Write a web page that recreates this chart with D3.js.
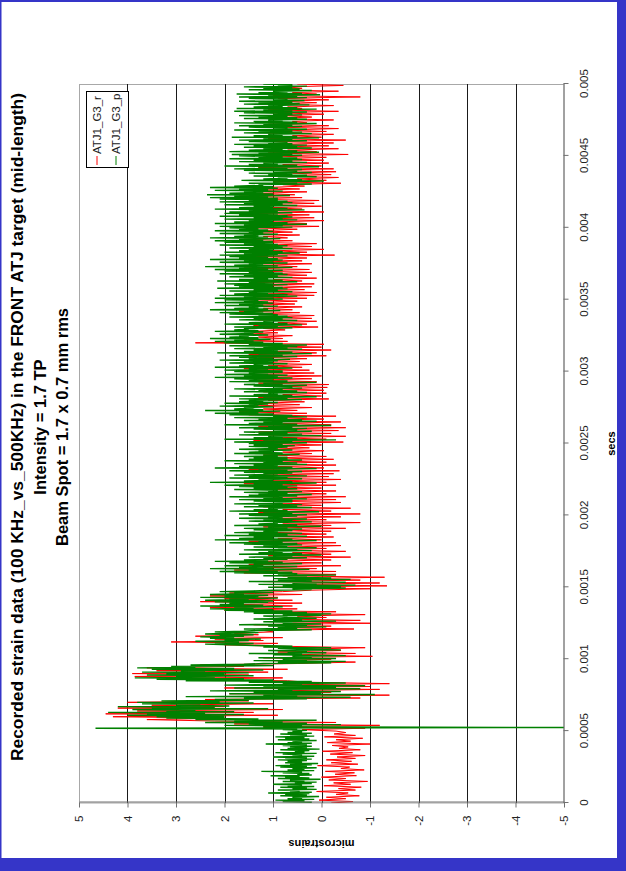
<!DOCTYPE html>
<html>
<head>
<meta charset="utf-8">
<script src="https://cdn.jsdelivr.net/npm/d3@7"></script>
<style>
  html, body { margin: 0; padding: 0; background: #fff; }
  svg { display: block; }
</style>
</head>
<body>
<svg id="chart" width="626" height="871"></svg>
<script>
// ---- data ---------------------------------------------------------------
const titleLines = [
  "Recorded strain data (100 KHz_vs_500KHz) in the FRONT ATJ target (mid-length)",
  "Intensity = 1.7 TP",
  "Beam Spot = 1.7 x 0.7 mm rms"
];
const seriesNames = ["ATJ1_G3_r", "ATJ1_G3_p"];
const timeTicks = [0, 0.0005, 0.001, 0.0015, 0.002, 0.0025, 0.003, 0.0035, 0.004, 0.0045, 0.005];
const timeTickLabels = ["0", "0.0005", "0.001", "0.0015", "0.002", "0.0025", "0.003", "0.0035", "0.004", "0.0045", "0.005"];
const strainTicks = [5, 4, 3, 2, 1, 0, -1, -2, -3, -4, -5];
const strainTickLabels = ["5", "4", "3", "2", "1", "0", "-1", "-2", "-3", "-4", "-5"];
const stepR = 0.00001;  // seconds between ATJ1_G3_r samples
const stepP = 0.000005; // seconds between ATJ1_G3_p samples

// ATJ1_G3_r (microstrains)
const strainR = [
  -0.2,-0.65,0.05,-0.5,-0.1,-0.78,-0.3,-0.55,0.1,-0.7,
  -0.35,-0.82,-0.05,-0.6,-0.25,-0.95,-0.15,-0.5,0.0,-0.72,
  -0.28,-0.68,-0.08,-0.88,-0.4,-0.58,0.08,-0.75,-0.2,-0.62,
  -0.1,-0.7,-0.32,-0.9,-0.18,-0.64,-0.02,-0.8,-0.36,-0.55,
  -0.22,-1.0,-0.12,-0.6,-0.3,-0.85,-0.06,-0.7,-0.26,-0.5,
  -0.3,0.4,-0.9,1.2,-1.2,1.8,-0.3,2.2,3.6,2.0,
  4.3,0.9,4.45,1.4,3.8,0.8,4.2,2.0,3.5,1.0,
  4.0,1.5,2.4,-0.8,1.5,-1.4,1.9,-0.2,0.9,-1.2,
  2.0,-1.0,1.1,-1.4,0.3,0.7,3.0,0.8,3.85,1.5,
  3.9,1.1,3.4,0.7,3.6,1.6,2.5,0.5,-0.7,1.0,
  -0.2,1.2,-1.05,0.6,-0.7,0.9,-0.4,0.3,-0.9,0.8,
  2.0,0.9,3.1,1.2,2.2,0.8,2.6,1.3,1.8,1.0,
  1.2,-0.67,0.9,-0.2,1.4,-1.0,0.6,-0.8,1.0,-0.1,
  0.5,-0.9,1.2,-0.3,2.0,0.5,2.3,0.6,1.7,0.4,
  2.5,0.6,2.0,0.9,2.3,0.4,1.9,0.8,0.2,-1.0,
  1.0,-1.35,0.6,-1.2,1.2,-0.8,0.5,-1.3,0.8,-0.3,
  1.6,-0.3,1.8,0.1,1.2,-0.4,1.5,0.0,1.3,-0.2,
  0.9,-0.6,1.1,-0.2,0.6,-0.5,1.0,-0.1,0.7,-0.4,
  1.3,-0.3,1.5,0.0,0.9,-0.25,1.4,-0.1,1.1,-0.2,
  1.0,-0.5,1.2,-0.2,0.8,-0.8,1.1,-0.1,0.9,-0.4,
  1.1,-0.8,1.3,-0.2,0.8,-0.6,1.2,0.0,0.9,-0.4,
  1.2,-0.3,1.0,-0.5,1.3,-0.1,0.8,-0.3,1.1,0.0,
  1.4,-0.3,1.6,-0.1,1.0,-0.4,1.5,-0.15,1.2,-0.25,
  1.3,-0.37,1.5,-0.05,0.9,-0.3,1.4,-0.1,1.1,-0.25,
  1.0,-0.1,1.2,0.2,0.8,-0.05,1.1,0.25,0.9,0.0,
  1.2,-0.45,1.4,-0.1,0.9,-0.5,1.1,-0.2,1.3,-0.35,
  1.0,-0.5,1.3,-0.2,0.8,-0.4,1.4,-0.05,1.1,-0.3,
  1.5,0.3,1.7,0.5,1.2,0.2,1.6,0.45,1.3,0.35,
  1.1,-0.15,1.3,0.0,0.8,-0.1,1.2,-0.05,0.9,-0.12,
  1.0,-0.15,1.3,0.1,1.4,0.2,1.2,0.0,1.5,0.15,
  1.4,0.25,1.6,0.4,1.1,0.2,1.5,0.45,1.2,0.3,
  1.3,-0.1,1.5,0.1,1.0,-0.2,1.4,0.0,1.1,-0.05,
  2.6,0.7,1.6,0.8,1.3,0.6,1.6,0.9,1.4,0.75,
  1.2,0.07,1.4,0.3,0.9,0.1,1.3,0.2,1.0,0.15,
  1.5,0.45,1.7,0.6,1.2,0.4,1.6,0.55,1.3,0.5,
  1.5,0.3,1.4,0.15,1.1,0.1,1.4,0.35,1.2,0.2,
  1.3,0.15,1.4,0.4,1.0,0.1,1.4,0.3,1.1,0.2,
  1.5,0.25,1.6,0.5,1.2,0.2,1.5,0.4,1.3,0.3,
  1.4,-0.27,1.3,0.3,1.0,-0.05,1.4,0.2,1.1,0.1,
  1.5,0.6,1.6,0.7,1.2,0.45,1.6,0.6,1.3,0.5,
  1.4,0.05,1.5,0.3,1.1,-0.05,1.3,0.15,1.2,0.25,
  1.5,-0.05,1.3,0.4,1.0,0.0,1.4,0.15,1.1,0.05,
  1.6,0.4,1.7,0.55,1.3,0.3,1.5,0.45,1.2,0.35,
  0.8,-0.4,1.0,-0.1,0.5,-0.35,0.9,-0.2,0.6,-0.3,
  1.1,-0.25,1.3,0.0,0.8,-0.15,1.2,-0.05,0.9,-0.1,
  1.2,-0.55,1.1,0.1,0.7,-0.35,1.1,-0.15,0.9,-0.25,
  1.0,-0.5,1.1,0.0,0.6,-0.25,1.1,-0.1,0.8,-0.35,
  0.9,-0.15,1.1,0.3,0.6,-0.25,1.0,0.2,0.8,-0.05,
  1.0,-0.35,1.1,0.4,0.7,-0.25,1.0,0.1,0.8,-0.15,
  0.9,-0.8,1.0,0.1,0.6,-0.35,1.0,0.4,0.7,-0.45,
  0.5
];

// ATJ1_G3_p (microstrains)
const strainP = [
  0.55,0.2,0.8,0.35,0.95,0.15,0.7,0.4,0.6,0.05,0.85,0.3,0.75,0.25,1.1,0.2,0.65,0.45,0.9,0.1,
  0.6,0.3,0.85,0.15,0.7,0.4,1.0,0.2,0.55,0.1,0.8,0.35,0.65,0.02,0.9,0.25,0.75,0.45,1.05,0.2,
  0.5,0.25,0.8,0.4,1.24,0.15,0.7,0.35,0.6,0.1,0.85,0.3,0.95,0.2,0.65,0.07,0.75,0.4,0.7,0.3,
  0.9,0.2,0.75,0.3,1.0,0.15,0.6,0.4,0.8,0.1,0.95,0.35,0.55,0.25,0.85,0.04,0.7,0.3,0.65,0.2,
  0.8,0.3,1.15,0.2,0.7,0.4,0.6,0.1,0.9,0.25,0.75,0.35,0.95,0.15,0.65,0.3,0.85,0.2,0.7,0.4,
  0.6,0.3,0.8,0.5,4.66,-5.0,1.2,0.4,2.0,-0.4,1.5,0.3,2.4,0.8,1.8,0.1,2.6,1.3,3.2,2.0,
  3.4,2.0,4.0,1.6,3.6,2.4,4.4,1.8,3.2,2.6,3.9,1.1,3.5,2.2,4.2,1.9,3.0,2.5,3.7,1.4,
  3.8,2.1,3.3,1.5,2.2,0.3,1.6,-0.6,2.8,0.5,1.2,-1.1,1.9,0.0,1.4,-0.4,2.3,0.6,0.9,-0.8,
  1.8,-0.3,1.2,-0.9,2.0,0.4,0.8,-0.5,1.5,0.2,2.8,1.0,3.4,1.6,3.85,2.2,3.0,1.4,3.6,2.0,
  3.2,1.5,3.7,2.4,2.9,1.2,3.5,1.8,3.8,2.6,3.1,1.0,2.7,1.6,1.2,-0.2,0.9,-0.5,1.4,0.3,
  0.8,-0.3,1.3,0.2,0.6,-0.5,1.0,0.4,1.5,-0.1,0.7,0.3,1.1,-0.4,0.5,0.9,-0.2,1.2,0.6,1.4,
  1.9,2.4,1.4,2.2,1.7,2.6,1.5,2.0,1.25,2.3,1.8,2.5,1.6,2.1,1.4,2.4,1.9,1.3,2.2,1.6,
  1.3,0.2,1.6,0.5,0.9,-0.1,1.1,0.3,1.7,0.0,0.8,0.6,1.2,-0.3,1.0,0.4,1.4,0.1,0.7,0.9,
  1.2,0.0,0.8,-0.2,1.4,0.3,1.6,0.6,2.0,1.0,2.3,1.4,1.8,0.8,2.5,1.2,2.1,1.6,1.9,1.1,
  2.2,1.0,2.4,1.5,1.9,0.9,2.5,1.3,2.0,1.1,2.3,1.6,1.8,1.0,2.1,1.4,1.0,0.2,0.6,-0.5,
  1.1,-0.4,0.8,-0.7,1.3,0.1,0.6,-0.5,1.5,0.2,0.9,-0.6,1.0,-0.2,0.7,0.3,1.2,-0.3,0.9,0.5,
  1.8,0.6,2.1,0.9,1.5,0.25,2.3,1.0,1.7,0.5,2.0,1.2,1.4,0.4,1.9,0.8,2.2,1.1,1.6,0.7,
  1.2,0.3,1.5,0.6,1.0,0.0,1.7,0.4,1.3,0.8,1.1,0.2,1.6,0.5,0.9,0.1,1.4,0.7,1.2,0.4,
  1.6,0.5,1.9,0.8,1.3,0.1,2.2,0.6,1.7,1.0,1.4,0.3,2.0,0.7,1.5,0.4,1.8,0.9,1.2,0.6,
  1.4,0.4,1.6,0.7,1.1,0.0,1.8,0.5,1.3,0.9,1.0,0.2,1.5,0.6,1.2,0.3,1.7,0.8,1.1,0.5,
  1.5,0.3,1.7,0.6,1.2,0.05,1.9,0.7,1.4,0.9,1.1,0.2,1.6,0.5,1.3,0.4,1.8,0.8,1.0,0.6,
  1.4,0.6,1.7,0.3,1.2,0.8,1.9,0.5,1.5,0.2,1.3,0.7,1.6,0.4,1.1,0.9,1.8,0.5,1.4,0.7,
  1.7,0.5,2.0,0.8,1.4,0.1,2.3,0.6,1.6,1.0,1.3,0.4,1.9,0.7,1.5,0.3,1.8,0.9,1.2,0.6,
  1.6,0.4,1.9,0.7,1.3,0.1,2.2,0.6,1.7,0.9,1.4,0.3,1.8,0.5,1.2,0.8,2.0,0.4,1.5,0.7,
  1.4,0.7,1.6,0.9,1.2,0.45,1.8,0.8,1.5,1.0,1.3,0.6,1.7,0.9,1.1,0.7,1.5,0.55,1.4,0.8,
  1.5,0.3,1.8,0.6,1.2,-0.3,2.0,0.5,1.4,0.8,1.1,0.0,1.7,0.4,1.3,0.7,1.6,0.2,1.0,0.5,
  1.4,0.3,1.7,0.6,1.1,-0.2,2.0,0.5,1.5,0.8,1.2,0.1,1.6,0.4,1.3,0.7,1.8,0.3,1.0,0.6,
  1.9,1.0,2.2,1.3,1.7,0.85,2.4,1.2,1.8,1.4,1.6,1.0,2.1,1.3,1.5,1.1,2.0,0.9,1.7,1.2,
  1.5,0.4,1.7,0.7,1.2,0.1,1.9,0.6,1.4,0.9,1.1,0.3,1.6,0.5,1.3,0.8,1.8,0.4,1.0,0.6,
  1.4,0.3,1.6,0.8,1.2,0.1,1.9,0.7,1.5,1.0,1.8,0.6,2.2,0.9,1.6,0.7,2.0,1.1,1.5,0.8,
  1.8,0.8,2.0,1.1,1.5,0.6,2.2,0.9,1.7,1.2,1.4,0.7,1.9,1.0,1.6,0.9,2.1,0.65,1.5,1.0,
  1.7,0.5,1.9,0.8,1.3,0.2,2.15,0.6,1.6,0.9,1.4,0.4,1.8,0.7,1.2,0.5,1.9,0.3,1.5,0.8,
  2.0,1.2,2.2,1.4,1.8,1.05,2.3,1.3,1.9,1.5,1.7,1.1,2.1,1.4,1.6,1.2,2.2,1.3,1.8,1.5,
  1.6,0.6,1.8,0.9,1.3,0.4,2.0,0.7,1.5,1.0,1.2,0.5,1.7,0.8,1.4,0.6,1.9,0.7,1.3,0.9,
  1.9,1.0,2.1,1.2,1.6,0.85,2.3,1.1,1.8,1.3,1.5,0.9,2.0,1.2,1.7,1.0,2.2,1.1,1.6,1.3,
  2.0,0.8,2.2,1.0,1.6,0.5,2.1,0.7,1.8,1.1,1.5,0.6,1.9,0.9,1.4,0.7,2.15,0.8,1.7,1.0,
  1.8,0.7,2.0,1.0,1.5,0.5,2.15,0.8,1.7,1.1,1.4,0.6,1.9,0.9,1.6,0.7,2.1,0.8,1.5,1.0,
  2.0,0.8,2.2,1.1,1.7,0.6,2.4,0.9,1.8,1.2,1.5,0.7,2.1,1.0,1.6,0.8,2.3,0.9,1.7,1.1,
  1.9,0.7,2.1,0.9,1.6,0.45,2.0,0.8,1.7,1.0,1.5,0.6,1.9,0.8,1.4,0.7,2.1,0.9,1.6,1.0,
  2.0,1.0,2.2,1.2,1.7,0.85,2.3,1.1,1.8,1.3,1.6,0.9,2.1,1.2,1.5,1.0,2.2,1.1,1.7,1.3,
  1.9,0.6,2.1,0.8,1.6,0.3,2.2,0.7,1.8,1.0,1.5,0.5,2.0,0.8,1.4,0.6,2.1,0.7,1.7,0.9,
  2.0,0.6,1.9,0.9,1.5,0.35,2.2,0.7,1.7,1.0,1.4,0.5,2.0,0.8,1.6,0.6,2.1,0.7,1.5,0.9,
  2.1,0.9,2.3,1.1,1.8,0.65,2.36,1.0,1.9,1.2,1.6,0.8,2.2,1.1,1.7,0.9,2.3,1.0,1.8,1.2,
  1.3,0.2,1.5,0.5,1.0,-0.05,1.65,0.4,1.2,0.7,0.9,0.1,1.4,0.3,1.1,0.6,1.5,0.2,1.0,0.5,
  1.6,0.4,1.8,0.7,1.3,0.05,2.0,0.5,1.5,0.9,1.2,0.3,1.7,0.6,1.4,0.4,1.9,0.5,1.3,0.8,
  1.7,0.4,1.85,0.6,1.3,0.05,1.9,0.5,1.5,0.8,1.2,0.2,1.6,0.5,1.4,0.3,1.8,0.6,1.1,0.7,
  1.5,0.3,1.7,0.6,1.2,0.05,1.85,0.5,1.4,0.8,1.1,0.2,1.6,0.4,1.3,0.6,1.8,0.3,1.0,0.7,
  1.5,0.4,1.7,0.6,1.2,0.1,1.8,0.5,1.4,0.8,1.1,0.3,1.6,0.5,1.3,0.7,1.7,0.4,1.0,0.6,
  1.6,0.3,1.8,0.6,1.2,0.1,1.75,0.5,1.4,0.8,1.1,0.25,1.6,0.45,1.3,0.6,1.7,0.35,1.0,0.7,
  1.5,0.3,1.7,0.5,1.1,0.03,1.75,0.4,1.3,0.7,1.0,0.2,1.5,0.45,1.2,0.6,1.6,0.3,0.9,0.6,
  1.2
];

const seriesColors = ["#ff0000", "#008000"];
const seriesSteps = [stepR, stepP];
const seriesWidths = [1, 1.4];

// ---- layout --------------------------------------------------------------
// The chart is laid out landscape (time along x, strain along y) inside a
// group that is turned a quarter turn counter-clockwise on the page.
const svg = d3.select("#chart");
const frame = { left: 79, right: 564, top: 84, bottom: 803 };
const timeLen = frame.bottom - frame.top;   // length of the time axis
const strainLen = frame.right - frame.left; // length of the strain axis
const font = "'Liberation Sans', Arial, sans-serif";

const x = d3.scaleLinear().domain([0, 0.005]).range([0, timeLen]);
const y = d3.scaleLinear().domain([5, -5]).range([0, strainLen]);
const crisp = v => Math.round(v) + 0.5;

svg.append("rect").attr("width", 626).attr("height", 871).attr("fill", "#fff");

const g = svg.append("g")
  .attr("transform", `translate(${frame.left},${frame.bottom}) rotate(-90)`);

// plot area border
g.append("rect")
  .attr("x", 0).attr("y", 0.5)
  .attr("width", timeLen - 0.5).attr("height", strainLen - 0.5)
  .attr("fill", "#fff").attr("stroke", "#a8a8a8").attr("stroke-width", 1);

// gridlines on every whole microstrain
g.append("g").selectAll("line")
  .data(strainTicks.filter(v => v < 5 && v > -5))
  .join("line")
  .attr("x1", 0).attr("x2", timeLen)
  .attr("y1", d => crisp(y(d))).attr("y2", d => crisp(y(d)))
  .attr("stroke", "#1a1a1a").attr("stroke-width", 1);

// clip for the traces
g.append("clipPath").attr("id", "plotClip")
  .append("rect").attr("x", 0).attr("y", 0).attr("width", timeLen).attr("height", strainLen);

const traces = g.append("g").attr("clip-path", "url(#plotClip)");
[strainR, strainP].forEach((series, k) => {
  const line = d3.line()
    .x((d, i) => x(i * seriesSteps[k]))
    .y(d => y(d));
  traces.append("path")
    .datum(series)
    .attr("d", line)
    .attr("fill", "none")
    .attr("stroke", seriesColors[k])
    .attr("stroke-width", seriesWidths[k]);
});

// time axis (appears on the right of the page)
const timeAxis = d3.axisBottom(x)
  .tickValues(timeTicks)
  .tickFormat((d, i) => timeTickLabels[i])
  .tickSize(5).tickSizeOuter(0).tickPadding(11);
const ta = g.append("g").attr("transform", `translate(0,${strainLen - 0.5})`).call(timeAxis);

// strain axis (appears along the bottom of the page)
const strainAxis = d3.axisLeft(y)
  .tickValues(strainTicks)
  .tickFormat((d, i) => strainTickLabels[i])
  .tickSize(5).tickSizeOuter(0).tickPadding(8);
const sa = g.append("g").attr("transform", "translate(0.5,0)").call(strainAxis);

[ta, sa].forEach(a => {
  a.select(".domain").attr("stroke", "#707070");
  a.selectAll(".tick line").attr("stroke", "#707070");
  a.selectAll(".tick text")
    .attr("font-family", font).attr("font-size", 11.5).attr("fill", "#222");
});

// axis titles
g.append("text")
  .attr("x", timeLen / 2).attr("y", strainLen + 51)
  .attr("text-anchor", "middle")
  .attr("font-family", font).attr("font-weight", "bold").attr("font-size", 11)
  .text("secs");
g.append("text")
  .attr("transform", `translate(-40,${strainLen / 2}) rotate(-90)`)
  .attr("text-anchor", "middle").attr("dominant-baseline", "middle")
  .attr("font-family", font).attr("font-weight", "bold").attr("font-size", 11)
  .text("microstrains");

// legend
const leg = g.append("g");
leg.append("rect")
  .attr("x", 635.5).attr("y", 7.5).attr("width", 76).attr("height", 42)
  .attr("fill", "#fff").attr("stroke", "#000").attr("stroke-width", 1);
seriesNames.forEach((name, k) => {
  const ly = 18 + k * 19;
  leg.append("line")
    .attr("x1", 638).attr("x2", 647).attr("y1", ly).attr("y2", ly)
    .attr("stroke", seriesColors[k]).attr("stroke-width", 1);
  leg.append("text")
    .attr("x", 649).attr("y", ly).attr("dy", "0.35em")
    .attr("font-family", font).attr("font-size", 11.5).attr("fill", "#222")
    .text(name);
});

// title, centred over the chart
const titleX = [19, 42, 64];
titleLines.forEach((t, i) => {
  const txt = svg.append("text")
    .attr("transform", `translate(${titleX[i]},427) rotate(-90)`)
    .attr("text-anchor", "middle").attr("dominant-baseline", "middle")
    .attr("font-family", font).attr("font-weight", "bold").attr("font-size", 16.5)
    .text(t);
  if (i === 0) txt.attr("textLength", 668).attr("lengthAdjust", "spacingAndGlyphs");
});

// blue page border
const blue = "#3535c8";
svg.append("rect").attr("x", 0).attr("y", 0).attr("width", 626).attr("height", 2).attr("fill", blue);
svg.append("rect").attr("x", 0).attr("y", 0).attr("width", 1.5).attr("height", 871).attr("fill", blue);
svg.append("rect").attr("x", 617).attr("y", 0).attr("width", 9).attr("height", 871).attr("fill", blue);
svg.append("rect").attr("x", 0).attr("y", 858).attr("width", 626).attr("height", 13).attr("fill", blue);
</script>
</body>
</html>
